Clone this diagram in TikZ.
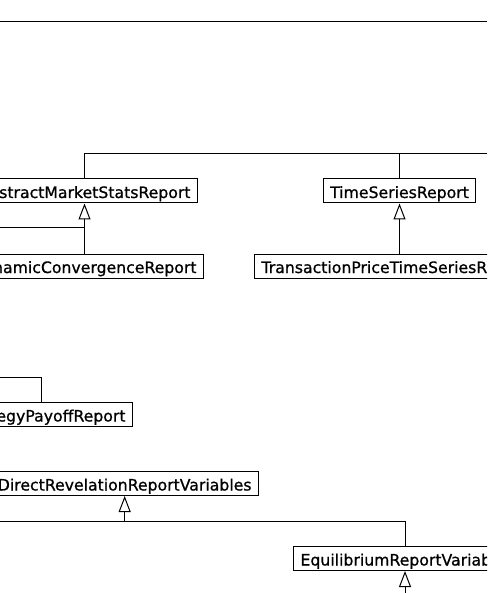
\documentclass[tikz,border=0pt]{standalone}
\usepackage{fontspec}
\setmainfont{DejaVu Sans}[FakeBold=0.8, BoldFont={DejaVu Sans}]
\usetikzlibrary{arrows.meta, positioning}
\tikzset{
  class/.style = {draw, line width=1pt,
                  font=\fontsize{15.7pt}{18pt}\selectfont\bfseries,
                  inner xsep=7pt, inner ysep=2pt, text height=17pt,
                  text depth=3pt, minimum height=24pt},
  link/.style = {line width=1pt},
  inherit/.style = {link, arrows={-Triangle[open, length=16pt, width=12pt]}},
}

\begin{document}
\begin{tikzpicture}[x=1pt, y=-1pt]
  \useasboundingbox (0, 0) rectangle (487, 593);
  \clip (0, 0) rectangle (487, 593);

  % Classes, most of them cut at the picture's edge
  \node (marketstats) [class, anchor=east] at (198, 191) {AbstractMarketStatsReport};
  \node (convergence) [class, anchor=east] at (204, 266) {DynamicConvergenceReport};
  \node (timeseries) [class] at (399.5, 191) {TimeSeriesReport};
  \node (priceseries) [class, anchor=west] at (254, 266) {TransactionPriceTimeSeriesReport};
  \node (payoff) [class, anchor=east] at (133, 414.5) {StrategyPayoffReport};
  \node (revelation) [class, anchor=east] at (259, 483.5) {DirectRevelationReportVariables};
  \node (equilibrium) [class, anchor=west] at (293, 558.5) {EquilibriumReportVariables};

  % Free ends of links that leave the picture
  \coordinate (topleft) at (0, 22);
  \coordinate (topright) at (487, 22);
  \coordinate (statsparent) at (487, 154);
  \coordinate (statssibling) at (0, 228);
  \coordinate (payoffparent) at (0, 377);
  \coordinate (revelationjoin) at (0, 521);
  \coordinate (equilibriumchild) at (405, 593);

  % Links
  \draw [link] (topleft) -- (topright);
  \draw [link] (marketstats.north) |- (statsparent);
  \draw [link] (timeseries.north) -- (timeseries.north |- statsparent);
  \draw [inherit] (convergence.north -| marketstats.south) -- (marketstats.south);
  \draw [link] (statssibling) -- (statssibling -| marketstats.south);
  \draw [inherit] (priceseries.north -| timeseries.south) -- (timeseries.south);
  \draw [link] (payoffparent) -| (payoff.north);
  \draw [link] (revelationjoin) -| (equilibrium.north -| equilibriumchild);
  \draw [inherit] (revelationjoin -| revelation.south) -- (revelation.south);
  \draw [inherit] (equilibriumchild) -- (equilibrium.south -| equilibriumchild);
\end{tikzpicture}
\end{document}
